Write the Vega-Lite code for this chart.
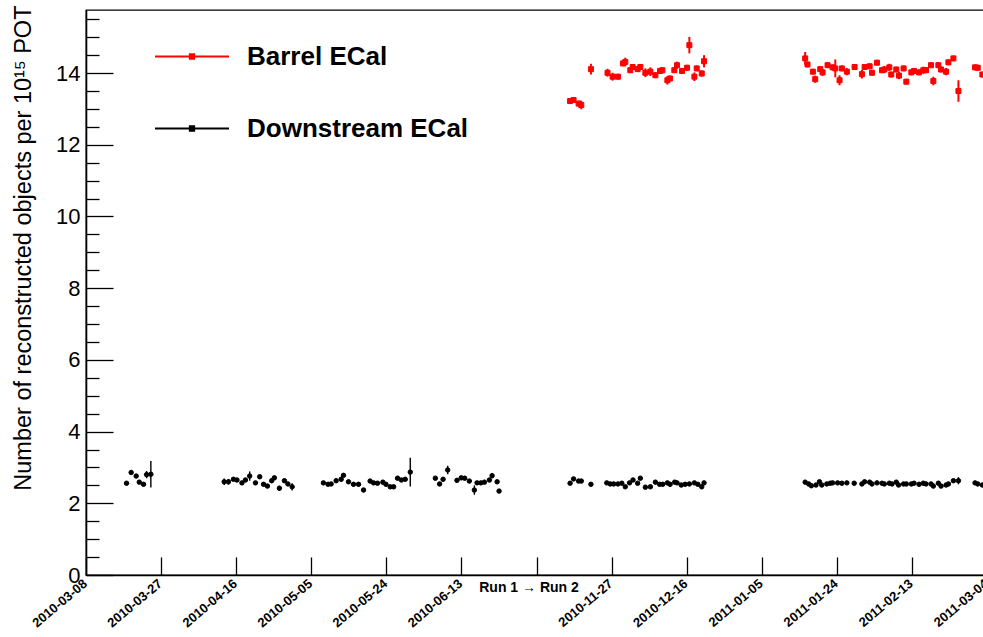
{
  "$schema": "https://vega.github.io/schema/vega-lite/v6.json",
  "width": 901,
  "height": 565,
  "autosize": {"type": "none"},
  "padding": {"left": 86, "top": 10, "right": 0, "bottom": 62},
  "background": "white",
  "config": {
    "font": "Liberation Sans",
    "view": {"stroke": "black", "strokeWidth": 1.3}
  },
  "datasets": {
    "ds": [
      {"s":"Downstream ECal","d":10.5,"v":2.56,"e":0.05},
      {"s":"Downstream ECal","d":11.7,"v":2.86,"e":0.05},
      {"s":"Downstream ECal","d":13.0,"v":2.76,"e":0.05},
      {"s":"Downstream ECal","d":13.8,"v":2.59,"e":0.05},
      {"s":"Downstream ECal","d":14.9,"v":2.53,"e":0.05},
      {"s":"Downstream ECal","d":15.7,"v":2.80,"e":0.10},
      {"s":"Downstream ECal","d":16.8,"v":2.81,"e":0.37},
      {"s":"Downstream ECal","d":35.8,"v":2.60,"e":0.09},
      {"s":"Downstream ECal","d":36.9,"v":2.60,"e":0.08},
      {"s":"Downstream ECal","d":38.2,"v":2.67,"e":0.05},
      {"s":"Downstream ECal","d":39.1,"v":2.65,"e":0.05},
      {"s":"Downstream ECal","d":40.4,"v":2.57,"e":0.05},
      {"s":"Downstream ECal","d":41.3,"v":2.65,"e":0.05},
      {"s":"Downstream ECal","d":42.4,"v":2.76,"e":0.13},
      {"s":"Downstream ECal","d":43.9,"v":2.57,"e":0.05},
      {"s":"Downstream ECal","d":45.0,"v":2.74,"e":0.05},
      {"s":"Downstream ECal","d":46.0,"v":2.53,"e":0.05},
      {"s":"Downstream ECal","d":47.0,"v":2.48,"e":0.05},
      {"s":"Downstream ECal","d":48.1,"v":2.63,"e":0.05},
      {"s":"Downstream ECal","d":48.8,"v":2.71,"e":0.05},
      {"s":"Downstream ECal","d":50.1,"v":2.42,"e":0.07},
      {"s":"Downstream ECal","d":51.4,"v":2.63,"e":0.05},
      {"s":"Downstream ECal","d":52.3,"v":2.54,"e":0.05},
      {"s":"Downstream ECal","d":53.4,"v":2.46,"e":0.10},
      {"s":"Downstream ECal","d":61.5,"v":2.57,"e":0.05},
      {"s":"Downstream ECal","d":62.7,"v":2.53,"e":0.05},
      {"s":"Downstream ECal","d":63.5,"v":2.54,"e":0.05},
      {"s":"Downstream ECal","d":64.8,"v":2.63,"e":0.06},
      {"s":"Downstream ECal","d":66.1,"v":2.67,"e":0.06},
      {"s":"Downstream ECal","d":66.7,"v":2.78,"e":0.05},
      {"s":"Downstream ECal","d":68.0,"v":2.60,"e":0.05},
      {"s":"Downstream ECal","d":69.3,"v":2.53,"e":0.06},
      {"s":"Downstream ECal","d":70.6,"v":2.53,"e":0.06},
      {"s":"Downstream ECal","d":71.9,"v":2.37,"e":0.06},
      {"s":"Downstream ECal","d":73.6,"v":2.62,"e":0.05},
      {"s":"Downstream ECal","d":74.5,"v":2.57,"e":0.05},
      {"s":"Downstream ECal","d":75.5,"v":2.56,"e":0.05},
      {"s":"Downstream ECal","d":76.9,"v":2.59,"e":0.05},
      {"s":"Downstream ECal","d":77.7,"v":2.53,"e":0.05},
      {"s":"Downstream ECal","d":78.8,"v":2.46,"e":0.05},
      {"s":"Downstream ECal","d":79.7,"v":2.46,"e":0.05},
      {"s":"Downstream ECal","d":80.7,"v":2.70,"e":0.05},
      {"s":"Downstream ECal","d":81.7,"v":2.65,"e":0.05},
      {"s":"Downstream ECal","d":82.7,"v":2.67,"e":0.05},
      {"s":"Downstream ECal","d":84.0,"v":2.87,"e":0.40},
      {"s":"Downstream ECal","d":90.5,"v":2.70,"e":0.05},
      {"s":"Downstream ECal","d":91.6,"v":2.54,"e":0.05},
      {"s":"Downstream ECal","d":92.5,"v":2.67,"e":0.05},
      {"s":"Downstream ECal","d":93.7,"v":2.93,"e":0.12},
      {"s":"Downstream ECal","d":96.1,"v":2.64,"e":0.05},
      {"s":"Downstream ECal","d":97.2,"v":2.71,"e":0.05},
      {"s":"Downstream ECal","d":98.1,"v":2.70,"e":0.05},
      {"s":"Downstream ECal","d":99.3,"v":2.62,"e":0.05},
      {"s":"Downstream ECal","d":100.6,"v":2.37,"e":0.13},
      {"s":"Downstream ECal","d":101.3,"v":2.57,"e":0.05},
      {"s":"Downstream ECal","d":102.3,"v":2.57,"e":0.05},
      {"s":"Downstream ECal","d":103.2,"v":2.59,"e":0.05},
      {"s":"Downstream ECal","d":104.5,"v":2.65,"e":0.05},
      {"s":"Downstream ECal","d":105.2,"v":2.77,"e":0.07},
      {"s":"Downstream ECal","d":106.5,"v":2.60,"e":0.05},
      {"s":"Downstream ECal","d":107.0,"v":2.34,"e":0.05},
      {"s":"Downstream ECal","d":125.4,"v":2.56,"e":0.05},
      {"s":"Downstream ECal","d":126.3,"v":2.68,"e":0.05},
      {"s":"Downstream ECal","d":127.6,"v":2.62,"e":0.05},
      {"s":"Downstream ECal","d":128.3,"v":2.62,"e":0.05},
      {"s":"Downstream ECal","d":130.8,"v":2.53,"e":0.05},
      {"s":"Downstream ECal","d":134.9,"v":2.57,"e":0.04},
      {"s":"Downstream ECal","d":135.8,"v":2.54,"e":0.04},
      {"s":"Downstream ECal","d":136.7,"v":2.54,"e":0.04},
      {"s":"Downstream ECal","d":137.8,"v":2.54,"e":0.04},
      {"s":"Downstream ECal","d":138.8,"v":2.56,"e":0.04},
      {"s":"Downstream ECal","d":139.7,"v":2.46,"e":0.04},
      {"s":"Downstream ECal","d":140.8,"v":2.57,"e":0.04},
      {"s":"Downstream ECal","d":141.7,"v":2.65,"e":0.04},
      {"s":"Downstream ECal","d":142.9,"v":2.56,"e":0.04},
      {"s":"Downstream ECal","d":143.6,"v":2.70,"e":0.04},
      {"s":"Downstream ECal","d":144.9,"v":2.45,"e":0.04},
      {"s":"Downstream ECal","d":146.2,"v":2.46,"e":0.04},
      {"s":"Downstream ECal","d":147.5,"v":2.59,"e":0.04},
      {"s":"Downstream ECal","d":148.6,"v":2.53,"e":0.04},
      {"s":"Downstream ECal","d":149.4,"v":2.53,"e":0.04},
      {"s":"Downstream ECal","d":150.6,"v":2.57,"e":0.04},
      {"s":"Downstream ECal","d":151.3,"v":2.53,"e":0.04},
      {"s":"Downstream ECal","d":152.5,"v":2.59,"e":0.04},
      {"s":"Downstream ECal","d":153.1,"v":2.57,"e":0.04},
      {"s":"Downstream ECal","d":154.2,"v":2.51,"e":0.04},
      {"s":"Downstream ECal","d":155.2,"v":2.53,"e":0.04},
      {"s":"Downstream ECal","d":156.3,"v":2.54,"e":0.04},
      {"s":"Downstream ECal","d":157.6,"v":2.57,"e":0.04},
      {"s":"Downstream ECal","d":158.5,"v":2.53,"e":0.04},
      {"s":"Downstream ECal","d":159.5,"v":2.46,"e":0.04},
      {"s":"Downstream ECal","d":160.1,"v":2.57,"e":0.04},
      {"s":"Downstream ECal","d":186.3,"v":2.59,"e":0.04},
      {"s":"Downstream ECal","d":187.2,"v":2.54,"e":0.04},
      {"s":"Downstream ECal","d":187.9,"v":2.49,"e":0.04},
      {"s":"Downstream ECal","d":189.1,"v":2.51,"e":0.04},
      {"s":"Downstream ECal","d":190.0,"v":2.60,"e":0.04},
      {"s":"Downstream ECal","d":190.6,"v":2.51,"e":0.04},
      {"s":"Downstream ECal","d":191.9,"v":2.54,"e":0.04},
      {"s":"Downstream ECal","d":192.8,"v":2.56,"e":0.04},
      {"s":"Downstream ECal","d":193.4,"v":2.57,"e":0.04},
      {"s":"Downstream ECal","d":194.7,"v":2.57,"e":0.04},
      {"s":"Downstream ECal","d":195.8,"v":2.56,"e":0.04},
      {"s":"Downstream ECal","d":197.1,"v":2.57,"e":0.04},
      {"s":"Downstream ECal","d":199.0,"v":2.56,"e":0.04},
      {"s":"Downstream ECal","d":201.0,"v":2.54,"e":0.04},
      {"s":"Downstream ECal","d":201.7,"v":2.60,"e":0.04},
      {"s":"Downstream ECal","d":203.0,"v":2.59,"e":0.04},
      {"s":"Downstream ECal","d":203.6,"v":2.54,"e":0.04},
      {"s":"Downstream ECal","d":204.9,"v":2.57,"e":0.04},
      {"s":"Downstream ECal","d":206.2,"v":2.56,"e":0.04},
      {"s":"Downstream ECal","d":206.8,"v":2.54,"e":0.04},
      {"s":"Downstream ECal","d":208.1,"v":2.56,"e":0.04},
      {"s":"Downstream ECal","d":208.8,"v":2.54,"e":0.04},
      {"s":"Downstream ECal","d":209.9,"v":2.59,"e":0.04},
      {"s":"Downstream ECal","d":210.5,"v":2.51,"e":0.04},
      {"s":"Downstream ECal","d":211.8,"v":2.54,"e":0.04},
      {"s":"Downstream ECal","d":212.5,"v":2.54,"e":0.04},
      {"s":"Downstream ECal","d":213.8,"v":2.54,"e":0.04},
      {"s":"Downstream ECal","d":214.5,"v":2.56,"e":0.04},
      {"s":"Downstream ECal","d":215.8,"v":2.53,"e":0.04},
      {"s":"Downstream ECal","d":216.9,"v":2.56,"e":0.04},
      {"s":"Downstream ECal","d":217.6,"v":2.54,"e":0.04},
      {"s":"Downstream ECal","d":218.9,"v":2.54,"e":0.04},
      {"s":"Downstream ECal","d":219.5,"v":2.48,"e":0.04},
      {"s":"Downstream ECal","d":220.8,"v":2.56,"e":0.04},
      {"s":"Downstream ECal","d":221.5,"v":2.48,"e":0.04},
      {"s":"Downstream ECal","d":222.8,"v":2.51,"e":0.04},
      {"s":"Downstream ECal","d":223.4,"v":2.54,"e":0.04},
      {"s":"Downstream ECal","d":224.7,"v":2.63,"e":0.05},
      {"s":"Downstream ECal","d":226.0,"v":2.63,"e":0.10},
      {"s":"Downstream ECal","d":230.3,"v":2.57,"e":0.04},
      {"s":"Downstream ECal","d":231.0,"v":2.54,"e":0.04},
      {"s":"Downstream ECal","d":232.2,"v":2.51,"e":0.04}
    ],
    "barrel": [
      {"s":"Barrel ECal","d":125.4,"v":13.22,"e":0.08},
      {"s":"Barrel ECal","d":126.3,"v":13.25,"e":0.08},
      {"s":"Barrel ECal","d":127.6,"v":13.15,"e":0.08},
      {"s":"Barrel ECal","d":128.3,"v":13.11,"e":0.12},
      {"s":"Barrel ECal","d":130.8,"v":14.11,"e":0.15},
      {"s":"Barrel ECal","d":135.1,"v":14.01,"e":0.11},
      {"s":"Barrel ECal","d":136.4,"v":13.90,"e":0.11},
      {"s":"Barrel ECal","d":137.8,"v":13.90,"e":0.08},
      {"s":"Barrel ECal","d":139.1,"v":14.27,"e":0.08},
      {"s":"Barrel ECal","d":139.7,"v":14.31,"e":0.12},
      {"s":"Barrel ECal","d":141.0,"v":14.08,"e":0.08},
      {"s":"Barrel ECal","d":141.6,"v":14.17,"e":0.08},
      {"s":"Barrel ECal","d":142.9,"v":14.11,"e":0.08},
      {"s":"Barrel ECal","d":143.6,"v":14.17,"e":0.08},
      {"s":"Barrel ECal","d":144.9,"v":14.01,"e":0.12},
      {"s":"Barrel ECal","d":146.2,"v":14.04,"e":0.12},
      {"s":"Barrel ECal","d":147.5,"v":13.94,"e":0.08},
      {"s":"Barrel ECal","d":148.7,"v":14.06,"e":0.08},
      {"s":"Barrel ECal","d":149.3,"v":14.08,"e":0.08},
      {"s":"Barrel ECal","d":150.6,"v":13.80,"e":0.12},
      {"s":"Barrel ECal","d":151.3,"v":13.85,"e":0.08},
      {"s":"Barrel ECal","d":152.4,"v":14.08,"e":0.08},
      {"s":"Barrel ECal","d":153.1,"v":14.22,"e":0.10},
      {"s":"Barrel ECal","d":154.4,"v":14.06,"e":0.08},
      {"s":"Barrel ECal","d":155.7,"v":14.15,"e":0.08},
      {"s":"Barrel ECal","d":156.3,"v":14.78,"e":0.23},
      {"s":"Barrel ECal","d":157.6,"v":13.90,"e":0.12},
      {"s":"Barrel ECal","d":158.2,"v":14.13,"e":0.08},
      {"s":"Barrel ECal","d":159.5,"v":13.99,"e":0.09},
      {"s":"Barrel ECal","d":160.1,"v":14.33,"e":0.17},
      {"s":"Barrel ECal","d":186.3,"v":14.41,"e":0.18},
      {"s":"Barrel ECal","d":186.9,"v":14.24,"e":0.08},
      {"s":"Barrel ECal","d":188.3,"v":14.04,"e":0.08},
      {"s":"Barrel ECal","d":188.9,"v":13.83,"e":0.10},
      {"s":"Barrel ECal","d":190.2,"v":14.11,"e":0.08},
      {"s":"Barrel ECal","d":190.8,"v":14.02,"e":0.10},
      {"s":"Barrel ECal","d":192.1,"v":14.22,"e":0.08},
      {"s":"Barrel ECal","d":193.4,"v":14.16,"e":0.08},
      {"s":"Barrel ECal","d":194.1,"v":14.13,"e":0.25},
      {"s":"Barrel ECal","d":195.2,"v":13.80,"e":0.14},
      {"s":"Barrel ECal","d":195.8,"v":14.13,"e":0.08},
      {"s":"Barrel ECal","d":197.1,"v":14.04,"e":0.10},
      {"s":"Barrel ECal","d":199.1,"v":14.17,"e":0.08},
      {"s":"Barrel ECal","d":201.0,"v":13.97,"e":0.12},
      {"s":"Barrel ECal","d":201.7,"v":14.17,"e":0.08},
      {"s":"Barrel ECal","d":203.0,"v":14.19,"e":0.08},
      {"s":"Barrel ECal","d":203.6,"v":14.01,"e":0.08},
      {"s":"Barrel ECal","d":204.9,"v":14.29,"e":0.08},
      {"s":"Barrel ECal","d":206.2,"v":14.08,"e":0.08},
      {"s":"Barrel ECal","d":206.8,"v":14.10,"e":0.10},
      {"s":"Barrel ECal","d":208.1,"v":14.16,"e":0.10},
      {"s":"Barrel ECal","d":208.6,"v":13.96,"e":0.08},
      {"s":"Barrel ECal","d":209.9,"v":14.10,"e":0.08},
      {"s":"Barrel ECal","d":210.6,"v":13.93,"e":0.10},
      {"s":"Barrel ECal","d":211.8,"v":14.13,"e":0.08},
      {"s":"Barrel ECal","d":212.5,"v":13.76,"e":0.08},
      {"s":"Barrel ECal","d":213.8,"v":14.02,"e":0.08},
      {"s":"Barrel ECal","d":214.5,"v":14.06,"e":0.08},
      {"s":"Barrel ECal","d":215.8,"v":14.02,"e":0.08},
      {"s":"Barrel ECal","d":216.9,"v":14.08,"e":0.10},
      {"s":"Barrel ECal","d":217.6,"v":14.08,"e":0.08},
      {"s":"Barrel ECal","d":218.9,"v":14.22,"e":0.08},
      {"s":"Barrel ECal","d":219.5,"v":13.78,"e":0.12},
      {"s":"Barrel ECal","d":220.8,"v":14.22,"e":0.08},
      {"s":"Barrel ECal","d":221.5,"v":14.10,"e":0.08},
      {"s":"Barrel ECal","d":222.8,"v":14.04,"e":0.10},
      {"s":"Barrel ECal","d":223.4,"v":14.30,"e":0.08},
      {"s":"Barrel ECal","d":224.7,"v":14.41,"e":0.08},
      {"s":"Barrel ECal","d":226.0,"v":13.50,"e":0.30},
      {"s":"Barrel ECal","d":230.3,"v":14.16,"e":0.08},
      {"s":"Barrel ECal","d":231.0,"v":14.15,"e":0.08},
      {"s":"Barrel ECal","d":232.2,"v":13.96,"e":0.08}
    ]
  },
  "resolve": {"axis": {"x": "independent", "y": "independent"}},
  "layer": [
    {
      "data": {"name": "ds"},
      "mark": {"type": "errorbar", "color": "black", "thickness": 1.4},
      "encoding": {
        "x": {"field": "d", "type": "quantitative", "scale": {"domain": [0, 233.4], "nice": false, "zero": false}, "axis": null},
        "y": {"field": "v", "type": "quantitative", "scale": {"domain": [0, 15.76], "nice": false, "zero": true}, "axis": null},
        "yError": {"field": "e"}
      }
    },
    {
      "data": {"name": "barrel"},
      "mark": {"type": "errorbar", "color": "#ff0000", "thickness": 2},
      "encoding": {
        "x": {"field": "d", "type": "quantitative", "scale": {"domain": [0, 233.4], "nice": false, "zero": false}, "axis": null},
        "y": {"field": "v", "type": "quantitative", "scale": {"domain": [0, 15.76], "nice": false, "zero": true}, "axis": null},
        "yError": {"field": "e"}
      }
    },
    {
      "data": {"name": "ds"},
      "mark": {"type": "point", "shape": "circle", "filled": true, "size": 20, "strokeWidth": 1, "opacity": 1},
      "encoding": {
        "x": {
          "field": "d", "type": "quantitative",
          "scale": {"domain": [0, 233.4], "nice": false, "zero": false},
          "axis": {
            "orient": "bottom",
            "values": [0, 19.45, 38.9, 58.35, 77.8, 97.25, 116.7, 136.15, 155.6, 175.05, 194.5, 213.95, 233.4],
            "labelExpr": "['2010-03-08','2010-03-27','2010-04-16','2010-05-05','2010-05-24','2010-06-13','','2010-11-27','2010-12-16','2011-01-05','2011-01-24','2011-02-13','2011-03-04'][round(datum.value/19.45)]",
            "labelAngle": -40,
            "labelAlign": "right",
            "labelBaseline": "top",
            "labelOffset": -5,
            "labelFont": "Liberation Sans",
            "labelFontSize": 13,
            "labelFontWeight": "bold",
            "labelColor": "black",
            "labelPadding": 20,
            "labelOverlap": false,
            "labelFlush": false,
            "labelBound": false,
            "tickSize": -18,
            "tickColor": "black",
            "tickWidth": 1.3,
            "domainColor": "black",
            "domainWidth": 1.6,
            "grid": false,
            "title": null
          }
        },
        "y": {
          "field": "v", "type": "quantitative",
          "scale": {"domain": [0, 15.76], "nice": false, "zero": true},
          "axis": {
            "orient": "left",
            "values": [0, 2, 4, 6, 8, 10, 12, 14],
            "format": "d",
            "labelFont": "Liberation Sans",
            "labelFontSize": 22,
            "labelColor": "black",
            "labelPadding": 33,
            "labelOverlap": false,
            "labelFlush": false,
            "labelBound": false,
            "tickSize": -27,
            "tickColor": "black",
            "tickWidth": 1.3,
            "domainColor": "black",
            "domainWidth": 1.6,
            "grid": false,
            "title": "Number of reconstructed objects per 10¹⁵ POT",
            "titleFont": "Liberation Sans",
            "titleFontSize": 23.5,
            "titleFontWeight": "normal",
            "titleColor": "black",
            "titleAnchor": "end",
            "titleBaseline": "alphabetic",
            "titleX": -56,
            "titleY": -5
          }
        },
        "fill": {
          "field": "s", "type": "nominal",
          "scale": {"domain": ["Barrel ECal", "Downstream ECal"], "range": ["#ff0000", "#000000"]},
          "legend": {
            "orient": "none", "legendX": 69.5, "legendY": 10, "title": null,
            "padding": 0, "rowPadding": 22, "symbolSize": 5041,
            "symbolType": "M-1.042,0H1.042M-0.06,-0.06H0.06V0.06H-0.06Z",
            "symbolStrokeWidth": 2, "symbolOpacity": 1,
            "labelFont": "Liberation Sans", "labelFontSize": 26, "labelFontWeight": "bold",
            "labelColor": "black", "labelOffset": 18.5, "labelLimit": 500
          }
        },
        "stroke": {
          "field": "s", "type": "nominal",
          "scale": {"domain": ["Barrel ECal", "Downstream ECal"], "range": ["#ff0000", "#000000"]},
          "legend": {
            "orient": "none", "legendX": 69.5, "legendY": 10, "title": null,
            "padding": 0, "rowPadding": 22, "symbolSize": 5041,
            "symbolType": "M-1.042,0H1.042M-0.06,-0.06H0.06V0.06H-0.06Z",
            "symbolStrokeWidth": 2, "symbolOpacity": 1,
            "labelFont": "Liberation Sans", "labelFontSize": 26, "labelFontWeight": "bold",
            "labelColor": "black", "labelOffset": 18.5, "labelLimit": 500
          }
        }
      }
    },
    {
      "data": {"name": "barrel"},
      "mark": {"type": "point", "shape": "square", "filled": true, "size": 25, "strokeWidth": 1, "opacity": 1},
      "encoding": {
        "x": {
          "field": "d", "type": "quantitative",
          "scale": {"domain": [0, 233.4], "nice": false, "zero": false},
          "axis": {
            "orient": "bottom",
            "values": [116.7],
            "labelExpr": "'Run 1 → Run 2'",
            "labelAngle": 0,
            "labelAlign": "center",
            "labelBaseline": "top",
            "labelOffset": -8,
            "labelPadding": 5,
            "labelFont": "Liberation Sans",
            "labelFontSize": 14,
            "labelFontWeight": "bold",
            "labelColor": "black",
            "labelOverlap": false,
            "labelFlush": false,
            "labelBound": false,
            "ticks": false,
            "domain": false,
            "grid": false,
            "title": null
          }
        },
        "y": {
          "field": "v", "type": "quantitative",
          "scale": {"domain": [0, 15.76], "nice": false, "zero": true},
          "axis": {
            "orient": "left",
            "values": [0.5,1,1.5,2.5,3,3.5,4.5,5,5.5,6.5,7,7.5,8.5,9,9.5,10.5,11,11.5,12.5,13,13.5,14.5,15,15.5],
            "labels": false,
            "tickSize": -13,
            "tickColor": "black",
            "tickWidth": 1.3,
            "domain": false,
            "grid": false,
            "title": null
          }
        },
        "fill": {
          "field": "s", "type": "nominal",
          "scale": {"domain": ["Barrel ECal", "Downstream ECal"], "range": ["#ff0000", "#000000"]}
        },
        "stroke": {
          "field": "s", "type": "nominal",
          "scale": {"domain": ["Barrel ECal", "Downstream ECal"], "range": ["#ff0000", "#000000"]}
        }
      }
    }
  ]
}
